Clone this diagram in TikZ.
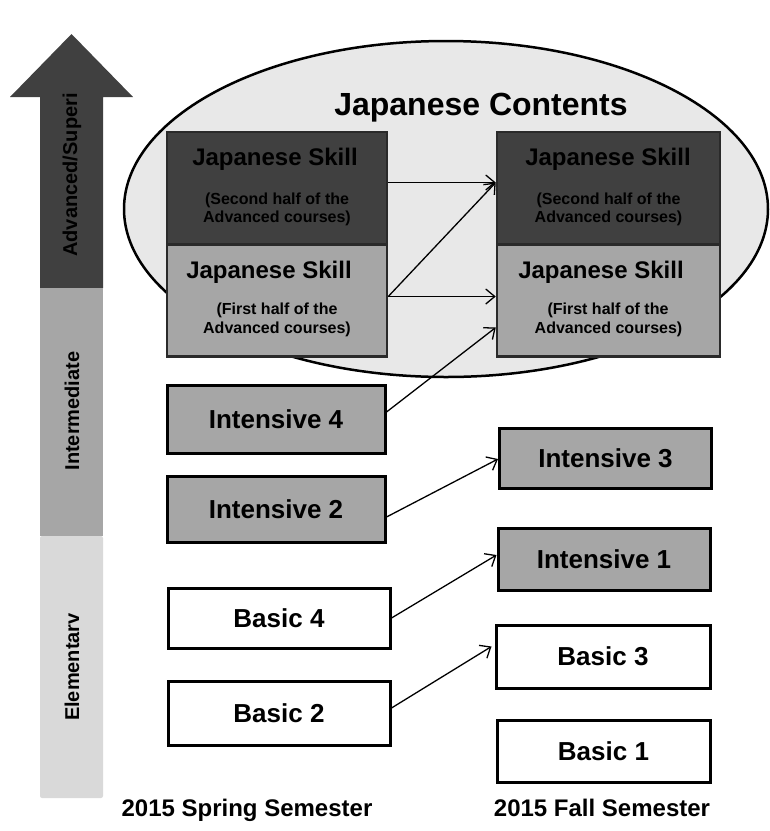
\documentclass[tikz,border=0pt]{standalone}
\usepackage{fontspec}
\setmainfont{Liberation Sans}
\usetikzlibrary{arrows.meta,shapes.geometric}
\definecolor{darkfill}{HTML}{404040}
\definecolor{midfill}{HTML}{A6A6A6}
\definecolor{lightfill}{HTML}{D9D9D9}
\definecolor{ellfill}{HTML}{E8E8E8}
\definecolor{jsborder}{HTML}{2A2A2A}
\begin{document}
\begin{tikzpicture}[x=1pt,y=-1pt,
  base/.style={inner sep=0pt, align=center, font=\bfseries},
  jsdark/.style={draw=jsborder, line width=2.5pt, fill=darkfill, inner sep=0pt},
  jsgray/.style={draw=jsborder, line width=2.5pt, fill=midfill, inner sep=0pt},
  jstitle/.style={base, anchor=base, font=\bfseries\fontsize{24}{28}\selectfont},
  jssub/.style={base, anchor=base, font=\bfseries\fontsize{16}{19}\selectfont},
  intbox/.style={base, draw=black, line width=3pt, fill=midfill, font=\bfseries\fontsize{26}{30}\selectfont},
  basicbox/.style={base, draw=black, line width=3pt, fill=white, font=\bfseries\fontsize{26}{30}\selectfont},
  barlabel/.style={base, rotate=90, font=\bfseries\fontsize{20}{24}\selectfont},
  semlabel/.style={base, anchor=base, font=\bfseries\fontsize{24}{28}\selectfont},
  conn/.style={line width=1.3pt, -{Straight Barb[length=9pt,width=15pt,line width=1.3pt]}}
]
\useasboundingbox (0,0) rectangle (770,831);

% level bar
\fill[darkfill] (40,288) -- (40,97) -- (10,97) -- (71.5,34) -- (133,97) -- (103,97) -- (103,288) -- cycle;
\fill[midfill] (40,288) rectangle (103,536);
\fill[lightfill, rounded corners=2pt] (40,536) -- (40,798) -- (103,798) -- (103,536) -- cycle;
\node[barlabel] (lvA) at (72,175) {Advanced/Superi};
\node[barlabel] (lvI) at (72,411) {Intermediate};
\node[barlabel] (lvE) at (72,667) {Elementarv};

% contents ellipse
\node[draw=black, line width=2.5pt, fill=ellfill, ellipse, inner sep=0pt,
      minimum width=644pt, minimum height=336pt] (cont) at (446,209) {};
\node[base, anchor=base, font=\bfseries\fontsize{32}{36}\selectfont] (conttitle) at (481,115) {Japanese Contents};

% Japanese skill boxes
\node[jsdark, minimum width=220pt, minimum height=113pt] (Ldark) at (277,188.5) {};
\node[jsgray, minimum width=220pt, minimum height=112pt] (Lgray) at (277,300.5) {};
\node[jsdark, minimum width=223pt, minimum height=113pt] (Rdark) at (608.5,188.5) {};
\node[jsgray, minimum width=223pt, minimum height=112pt] (Rgray) at (608.5,300.5) {};

\node[jstitle] (LdarkT) at (275,165.5) {Japanese Skill};
\node[jssub]   (LdarkS1) at (277,204.5) {(Second half of the};
\node[jssub]   (LdarkS2) at (277,222.5) {Advanced courses)};
\node[jstitle] (LgrayT) at (269,278.5) {Japanese Skill};
\node[jssub]   (LgrayS1) at (277,314.5) {(First half of the};
\node[jssub]   (LgrayS2) at (277,333.5) {Advanced courses)};
\node[jstitle] (RdarkT) at (608,165.5) {Japanese Skill};
\node[jssub]   (RdarkS1) at (608.5,204.5) {(Second half of the};
\node[jssub]   (RdarkS2) at (608.5,222.5) {Advanced courses)};
\node[jstitle] (RgrayT) at (601,278.5) {Japanese Skill};
\node[jssub]   (RgrayS1) at (608,314.5) {(First half of the};
\node[jssub]   (RgrayS2) at (608.5,333.5) {Advanced courses)};

% course boxes
\node[intbox, minimum width=218pt, minimum height=68pt] (int4) at (276,419) {Intensive 4};
\node[intbox, minimum width=218pt, minimum height=66pt] (int2) at (276,509) {Intensive 2};
\node[intbox, minimum width=212pt, minimum height=60pt] (int3) at (605.5,458) {Intensive 3};
\node[intbox, minimum width=212pt, minimum height=62pt] (int1) at (604,559) {Intensive 1};
\node[basicbox, minimum width=222pt, minimum height=60pt] (bas4) at (279,618) {Basic 4};
\node[basicbox, minimum width=214pt, minimum height=63pt] (bas3) at (603,656.5) {Basic 3};
\node[basicbox, minimum width=222pt, minimum height=64pt] (bas2) at (279,713) {Basic 2};
\node[basicbox, minimum width=213pt, minimum height=62pt] (bas1) at (603.5,751) {Basic 1};

% semester labels
\node[semlabel] (spring) at (247,816) {2015 Spring Semester};
\node[semlabel] (fall) at (602,816) {2015 Fall Semester};

% connectors
\draw[conn] ([yshift=6pt]Ldark.east) -- ([yshift=6pt]Rdark.west);
\draw[conn] ([yshift=4pt]Lgray.east) -- ([yshift=6pt]Rdark.west);
\draw[conn] ([yshift=4pt]Lgray.east) -- ([yshift=4pt]Rgray.west);
\draw[conn] ([yshift=7pt]int4.east) -- ([yshift=-27pt]Rgray.west);
\draw[conn] ([yshift=-8pt]int2.east) -- ([yshift=-1pt]int3.west);
\draw[conn] (bas4.east) -- ([yshift=4pt]int1.west);
\draw[conn] ([yshift=5pt]bas2.east) -- ([yshift=10pt,xshift=-3pt]bas3.west);
\end{tikzpicture}
\end{document}
